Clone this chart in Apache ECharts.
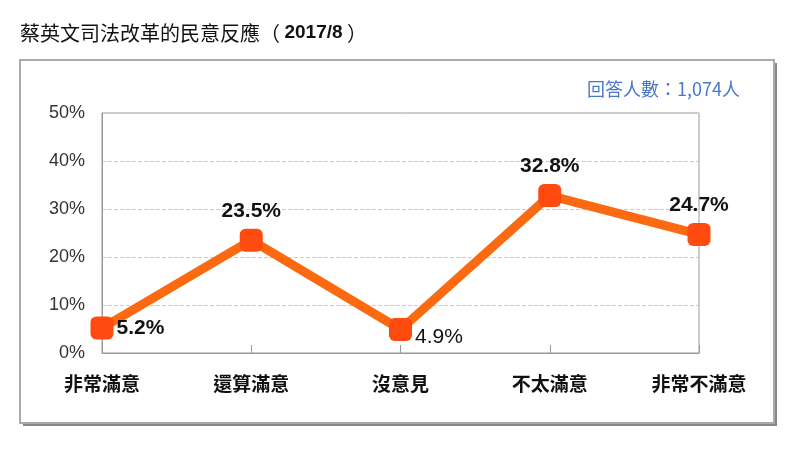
<!DOCTYPE html>
<html><head><meta charset="utf-8">
<script src="https://cdn.jsdelivr.net/npm/echarts@6/dist/echarts.min.js"></script>
<style>html,body{margin:0;padding:0;background:#fff;}#c{width:800px;height:453px;}</style>
</head><body><div id="c"></div>
<script>
const categories = ['非常滿意','還算滿意','沒意見','不太滿意','非常不滿意'];
const values = [5.2, 23.5, 4.9, 32.8, 24.7];
const labelPositions = ['right','top','right','top','top'];
const yTicks = [0,10,20,30,40,50];

const chart = echarts.init(document.getElementById('c'));
chart.setOption({
  animation:false,
  graphic:[
    {type:'rect', shape:{x:23,y:63,width:754,height:363}, style:{fill:'#888'}, z:0},
    {type:'rect', shape:{x:20,y:60,width:754,height:363}, style:{fill:'#fff',stroke:'#aaa',lineWidth:2}, z:1},
    {type:'text', left:20, top:23, style:{
      text:'{a|蔡英文司法改革的民意反應（ }{b|2017/8}{a| ）}',
      rich:{a:{font:'20px "Noto Sans CJK TC", sans-serif', fill:'#111', color:'#111'}, b:{font:'bold 19px "Liberation Sans", Arial, sans-serif', fill:'#111', color:'#111'}}
    }, z:5},
    {type:'text', right:60, top:80, style:{text:'回答人數：1,074人', font:'18px "Noto Sans CJK TC", sans-serif', fill:'#4a78c8'}, z:5}
  ],
  grid:{left:102, right:101, top:113, bottom:100, show:true, borderColor:'#999', borderWidth:1, z:9},
  xAxis:{
    type:'category', data:categories, boundaryGap:false, z:10,
    axisLine:{lineStyle:{color:'#999'}},
    axisTick:{show:true, length:-8, lineStyle:{color:'#999'}},
    axisLabel:{color:'#111', fontSize:19, fontWeight:'bold', margin:21, fontFamily:'"Noto Sans CJK TC", sans-serif'}
  },
  yAxis:{
    type:'value', min:0, max:50, interval:10, z:10,
    axisLine:{show:true, lineStyle:{color:'#999'}},
    axisTick:{show:false},
    axisLabel:{color:'#333', fontSize:18, margin:17, formatter:v=>v+'%', fontFamily:'"Liberation Sans", Arial, sans-serif'},
    splitLine:{lineStyle:{color:'#ccc', type:'dashed'}}
  },
  series:[{
    type:'line', z:11, data:values.map((v,i)=>({value:v, label:{position:labelPositions[i], fontWeight: i===2?'normal':'bold', offset: i===2?[-2,8]:(i===0?[-2,0]:[0,-2])}})),
    lineStyle:{color:'#fb6a10', width:9},
    symbol:'roundRect', symbolSize:23,
    itemStyle:{color:'#ff4a10'},
    label:{show:true, formatter:p=>p.value.toFixed(1)+'%', color:'#111', fontSize:21, fontFamily:'"Liberation Sans", Arial, sans-serif', distance:5}
  }]
});
</script></body></html>
